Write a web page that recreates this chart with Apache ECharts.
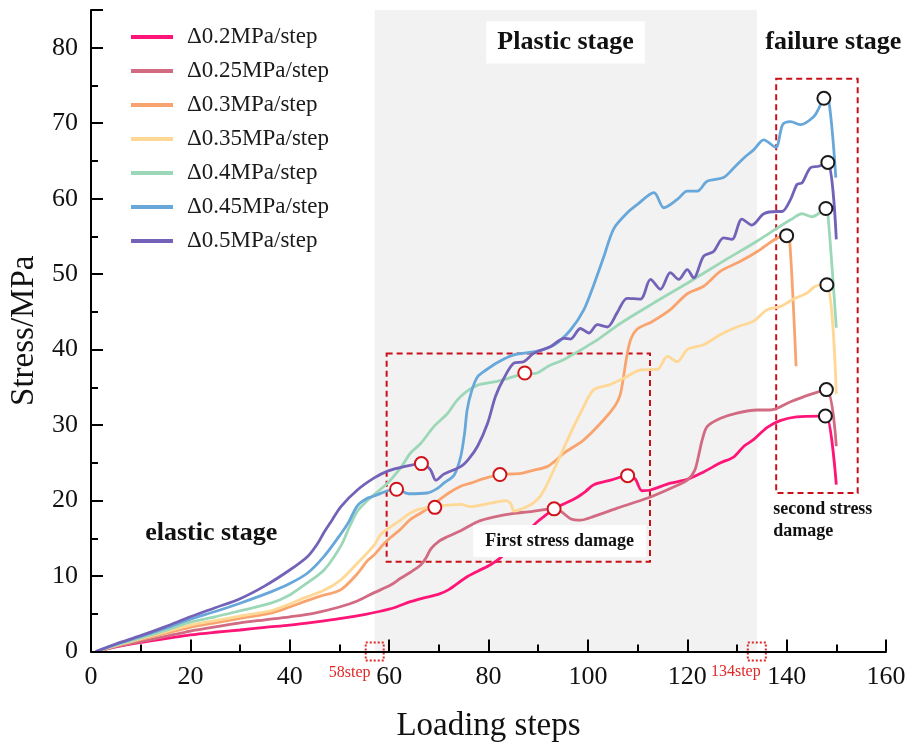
<!DOCTYPE html>
<html><head><meta charset="utf-8">
<script src="https://cdn.jsdelivr.net/npm/echarts@6/dist/echarts.min.js"></script>
<style>html,body{margin:0;padding:0;background:#fff}#c{width:917px;height:748px}</style>
</head><body><div id="c"></div>
<script>
// ---- data ----
const seriesNames = ['Δ0.2MPa/step','Δ0.25MPa/step','Δ0.3MPa/step','Δ0.35MPa/step','Δ0.4MPa/step','Δ0.45MPa/step','Δ0.5MPa/step'];
const colors = ['#FF1477','#D26A82','#F9A46E','#FFD896','#9CD8B7','#68A7DA','#7462B8'];

const d020 = [[1,0],[5,0.6],[10,1.2],[15,1.7],[20,2.2],[25,2.55],[30,2.85],[35,3.2],[40,3.5],[45,3.9],[50,4.35],[55,4.9],[58,5.3],[61,5.8],[64.3,6.6],[67,7.1],[70,7.6],[72,8.2],[75.7,9.9],[78,10.7],[80.4,11.5],[82.4,12.4],[84,13.5],[86,14.7],[88,16.0],[89.5,17.0],[91,17.8],[93.2,18.9],[95,19.5],[97.5,20.3],[99.5,21.2],[101.2,22.1],[104.6,22.7],[108,23.3],[109.5,22.9],[110.9,21.3],[112.6,21.4],[116.6,22.3],[120,22.8],[123.3,23.8],[126.7,25.0],[129.4,25.8],[131.4,27.2],[133.4,28.1],[136.1,29.7],[138.7,30.6],[142,31.1],[146.8,31.2],[148,31.2],[150,22.1]];
const d025 = [[1,0],[5,0.65],[10,1.3],[15,2.0],[20,2.7],[25,3.25],[30,3.8],[35,4.2],[40,4.6],[45,5.1],[50,5.9],[53.6,6.7],[57,7.8],[60.3,8.8],[62.3,9.7],[64.3,10.5],[66.4,11.5],[67.5,12.5],[68.4,13.6],[70,14.6],[71.7,15.2],[74.4,16.0],[77.8,17.2],[81,17.8],[85.1,18.3],[88,18.5],[91.2,18.8],[93.2,18.9],[94.5,18.6],[96.5,17.6],[98.5,17.4],[101.2,17.9],[105.9,19.0],[111.9,20.3],[116.6,21.6],[120,22.7],[121.5,24.0],[122.3,26.0],[123,28.0],[124,29.8],[126.7,30.9],[130,31.6],[134.1,32.0],[136.7,32.0],[140.8,33.1],[144.5,34.0],[148,34.7],[150,27.2]];
const d030 = [[1,0],[5,0.75],[10,1.6],[15,2.4],[20,3.2],[25,3.8],[30,4.4],[36.2,5.1],[40,5.9],[42.9,6.6],[46,7.3],[50.3,8.2],[53.6,10.3],[55.6,12.0],[57,12.8],[59,14.3],[60.3,15.1],[62.3,16.2],[64.3,17.5],[67,18.6],[69.5,19.8],[72,21.0],[74.4,21.9],[76.4,22.3],[79,22.9],[82.3,23.45],[84,23.5],[86.5,23.6],[89,24.0],[91.8,24.5],[93.5,25.3],[95.2,26.3],[99.2,28.05],[103.2,30.7],[105.5,32.6],[106.5,34.0],[107.2,36.5],[107.8,39.0],[108.6,41.3],[109.9,42.7],[112.9,43.7],[116.6,45.3],[120,47.4],[123.3,48.4],[126.7,50.4],[130.7,51.7],[134.1,53.0],[138.1,54.8],[140,55.1],[140.6,54.6],[141.9,37.8]];
const d035 = [[1,0],[5,0.8],[10,1.7],[15,2.6],[20,3.5],[25,4.1],[30,4.7],[36.2,5.4],[40,6.3],[42.9,7.1],[46.9,8.1],[50.3,9.5],[53.6,11.7],[57,14.1],[58.3,15.5],[60.3,16.5],[62.3,17.4],[63.7,18.1],[65.7,18.8],[69,19.2],[71.7,19.4],[74.4,19.5],[76.4,19.2],[80.4,19.65],[83.4,20.0],[84.5,19.6],[85.1,18.6],[87.8,19.2],[89.8,20.1],[91.2,21.4],[93.8,25.0],[96.5,28.9],[99.2,32.5],[101.2,34.7],[104.6,35.4],[107.2,36.2],[110.6,37.3],[114,37.4],[116,39.1],[118,38.4],[120,40.0],[123.3,40.65],[126.7,42.0],[130,43.0],[133.4,43.8],[136.1,45.3],[138.7,45.7],[141.4,46.7],[144.1,47.5],[145.8,48.4],[148.1,48.6],[150,34.1]];
const d040 = [[1,0],[5,0.85],[10,1.8],[15,2.8],[20,3.9],[25,4.6],[30,5.4],[36.2,6.4],[40,7.5],[42.9,8.8],[46.9,10.8],[50.3,14.0],[52,16.5],[53.6,18.6],[55,19.6],[57,20.8],[59,21.9],[60.3,22.75],[62.5,24.5],[64.3,26.3],[66.4,27.6],[69,29.8],[71.7,31.5],[73.7,33.3],[75.5,34.4],[77.8,35.3],[81.8,35.8],[84,36.2],[86.5,36.7],[89.8,36.9],[92,37.8],[95.2,38.7],[101.9,41.3],[106.6,43.5],[113.3,46.2],[120,48.8],[126.7,51.5],[134.1,54.4],[138.1,56.1],[140.8,57.2],[143.1,58.0],[145.1,57.6],[146.8,58.2],[147.9,58.7],[148.3,58.0],[150,42.9]];
const d045 = [[1,0],[5,0.95],[10,2.0],[15,3.1],[20,4.3],[25,5.3],[30,6.4],[36.2,7.9],[40,9.0],[43.6,10.4],[46.9,12.6],[50.3,15.6],[51.9,17.2],[53.6,19.3],[55.6,20.3],[57,20.6],[59.7,21.3],[61.5,21.5],[63.9,20.9],[67.7,21.0],[69.7,21.6],[71,22.3],[73.1,23.4],[74.4,25.8],[75.2,29.0],[75.7,32.0],[76.6,34.5],[77.8,36.4],[79.5,37.3],[81.8,38.3],[85.1,39.3],[89.8,39.8],[93.2,40.6],[96.5,42.6],[99.2,45.3],[101.2,48.6],[103.2,52.3],[105.2,56.0],[107.9,58.1],[109.9,59.2],[113.3,60.8],[115.3,58.8],[118,59.9],[120,61.0],[122,61.0],[124,62.3],[127.3,62.8],[129.4,64.1],[131.4,65.4],[133.4,66.5],[135.4,67.8],[137.8,66.8],[139.2,69.8],[140.8,70.2],[142.8,69.8],[145.5,70.9],[146.5,72.0],[147.5,73.3],[148.5,72.9],[149.9,62.8]];
const d050 = [[1,0],[5,1.0],[10,2.1],[15,3.3],[20,4.6],[25,5.8],[30,7.0],[35,8.7],[40,10.8],[43.6,12.6],[45.6,14.3],[47,15.9],[48.5,17.4],[50.3,19.2],[53.6,21.4],[57,23.0],[59.7,23.9],[63,24.5],[66.5,24.9],[68.3,24.1],[69.4,22.7],[71,23.5],[74.4,24.5],[76,25.5],[77.8,27.2],[79.8,30.2],[81.4,33.8],[83.1,36.2],[85.1,38.2],[87.1,38.4],[89.1,39.5],[92.5,40.4],[95.2,41.5],[96.5,41.4],[98.5,42.8],[100.2,42.2],[101.9,43.3],[103.9,43.0],[105.9,44.9],[107.9,46.8],[110.6,46.7],[112.6,49.3],[114.6,48.0],[116.6,50.2],[118.3,49.3],[120,50.6],[121.3,49.5],[123.3,52.4],[125.3,53.0],[127.3,54.8],[129,54.6],[131,57.3],[133,56.5],[135.4,58.0],[138.1,58.3],[139.1,58.3],[140.8,59.9],[142.1,61.9],[143.1,62.1],[144.8,64.1],[146.5,64.3],[148.3,64.8],[150,54.6]];
const seriesData = [d020,d025,d030,d035,d040,d045,d050];

const firstDamage  = [[66.5,24.9],[61.5,21.5],[69.2,19.1],[82.3,23.45],[87.3,36.9],[93.2,18.9],[108,23.3]];
const secondDamage = [[147.5,73.3],[148.3,64.8],[147.9,58.7],[140,55.1],[148.1,48.6],[148,34.7],[147.8,31.2]];
const stageBounds = [57.1, 134];
const stageLabels = ['58step','134step'];
const xTicks = {min:0, max:160, interval:20};
const yTicks = {min:0, max:85, interval:10};

// ---- chart ----
const FONT = 'Liberation Serif';
const chart = echarts.init(document.getElementById('c'), null, {renderer:'canvas'});
const lineSeries = seriesNames.map((n,i)=>({
  name:n, type:'line', data:seriesData[i], smooth:0.3, symbol:'none', showSymbol:false,
  lineStyle:{color:colors[i], width:2.8}, itemStyle:{color:colors[i]}, z:3, silent:true
}));
const redBox = {color:'rgba(0,0,0,0)', borderColor:'#C8101A', borderWidth:2, borderType:[6,4]};
const boldLbl = (sz)=>({show:true, position:'inside', formatter:'{b}', color:'#111', fontFamily:FONT, fontWeight:'bold', fontSize:sz});
const dotSq = {color:'rgba(0,0,0,0)', borderColor:'#E02828', borderWidth:2, borderType:[2,2]};
const option = {
  animation:false,
  backgroundColor:'#fff',
  grid:{left:90, right:31, top:10, bottom:96.5, containLabel:false},
  legend:{
    data:seriesNames, orient:'vertical', left:131, top:25, padding:0,
    icon:'rect', itemWidth:42, itemHeight:4, itemGap:10,
    textStyle:{fontFamily:FONT, fontSize:23, color:'#1a1a1a', lineHeight:24, padding:[0,0,0,9]}
  },
  xAxis:{
    type:'value', min:xTicks.min, max:xTicks.max, interval:xTicks.interval, z:20,
    name:'Loading steps', nameLocation:'middle', nameGap:58,
    nameTextStyle:{fontFamily:FONT, fontSize:33, color:'#111'},
    axisLine:{show:true, lineStyle:{color:'#000', width:2}},
    axisTick:{show:true, inside:true, length:12, lineStyle:{color:'#000', width:2}},
    minorTick:{show:true, splitNumber:2, length:7, lineStyle:{color:'#000', width:2}},
    axisLabel:{fontFamily:FONT, fontSize:26, color:'#111', margin:13},
    splitLine:{show:false}
  },
  yAxis:{
    type:'value', min:yTicks.min, max:yTicks.max, interval:yTicks.interval, z:20,
    name:'Stress/MPa', nameLocation:'middle', nameGap:50,
    nameTextStyle:{fontFamily:FONT, fontSize:33, color:'#111'},
    axisLine:{show:true, lineStyle:{color:'#000', width:2}},
    axisTick:{show:true, inside:true, length:12, lineStyle:{color:'#000', width:2}},
    minorTick:{show:true, splitNumber:2, length:7, lineStyle:{color:'#000', width:2}},
    axisLabel:{fontFamily:FONT, fontSize:26, color:'#111', margin:13, formatter:(v)=> v>80 ? '' : String(v)},
    splitLine:{show:false}
  },
  series:[
    {type:'line', data:[], z:1, silent:true,
     markArea:{silent:true, itemStyle:{color:'#F2F2F2'},
       data:[[{xAxis:stageBounds[0]},{xAxis:stageBounds[1]}]]}},
    ...lineSeries,
    {type:'scatter', data:firstDamage, symbol:'circle', symbolSize:13, z:6, silent:true,
     itemStyle:{color:'#fff', borderColor:'#D0141A', borderWidth:2, opacity:1}},
    {type:'scatter', data:secondDamage, symbol:'circle', symbolSize:13, z:6, silent:true,
     itemStyle:{color:'#fff', borderColor:'#1a1a1a', borderWidth:2, opacity:1}},
    {type:'scatter', data:[], z:8, silent:true,
     markArea:{silent:true, itemStyle:redBox,
       data:[[{coord:[59.5,39.5]},{coord:[112.5,11.9]}],[{coord:[137.9,75.9]},{coord:[154.3,21.0]}]]},
     markPoint:{silent:true, symbol:'circle', symbolSize:1, itemStyle:{color:'rgba(0,0,0,0)'},
       data:[
        {name:'Plastic stage', coord:[95.5,80.7], label:Object.assign(boldLbl(26),{backgroundColor:'#fff', padding:[8,11]})},
        {name:'failure stage', coord:[149.4,80.7], label:boldLbl(26)},
        {name:'elastic stage', coord:[24.2,15.7], label:boldLbl(26)},
        {name:'First stress damage', coord:[94.3,14.65], label:Object.assign(boldLbl(18),{backgroundColor:'#fff', padding:[7,12]})},
        {name:'second stress\ndamage', coord:[137.3,17.4], label:Object.assign(boldLbl(18),{align:'left', lineHeight:22})},
        {name:stageLabels[0], coord:[stageBounds[0],0], symbol:'rect', symbolSize:18, itemStyle:dotSq,
          label:{show:true, position:'inside', offset:[-25,21], formatter:'{b}', color:'#E02828', fontFamily:FONT, fontSize:16}},
        {name:stageLabels[1], coord:[stageBounds[1],0], symbol:'rect', symbolSize:18, itemStyle:dotSq,
          label:{show:true, position:'inside', offset:[-21,20], formatter:'{b}', color:'#E02828', fontFamily:FONT, fontSize:16}}
       ]}}
  ]
};
chart.setOption(option);
</script>
</body></html>
